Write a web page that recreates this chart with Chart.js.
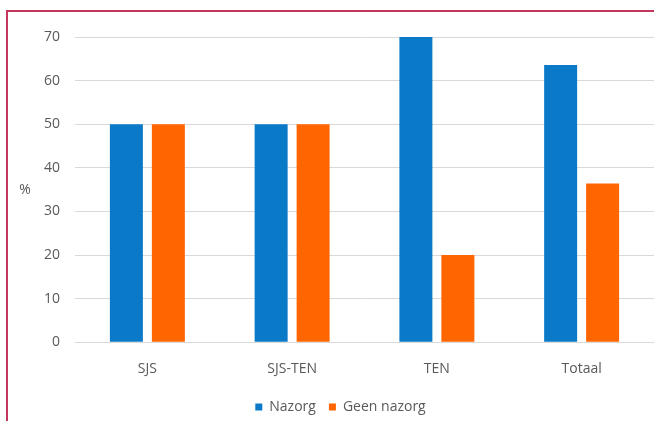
<!DOCTYPE html>
<html>
<head>
<meta charset="utf-8">
<script src="https://cdn.jsdelivr.net/npm/chart.js@4"></script>
<style>
  html, body { margin: 0; padding: 0; background: #fff; overflow: hidden; }
  #wrap { position: relative; width: 654px; height: 421px; overflow: hidden; }
  #frame { position: absolute; left: 6px; top: 10px; right: 0; bottom: 0;
           border-top: 2px solid #c4365c; border-left: 2px solid #c4365c; pointer-events: none; }
</style>
</head>
<body>
<div id="wrap">
  <canvas id="barChart" width="654" height="424"></canvas>
  <div id="frame"></div>
</div>
<script>
  var categories = ['SJS', 'SJS-TEN', 'TEN', 'Totaal'];
  var nazorg = [50, 50, 70, 63.6];
  var geenNazorg = [50, 50, 20, 36.4];
  var yTicks = [0, 10, 20, 30, 40, 50, 60, 70];

  // "%" staat rechtop links van de as
  var percentLabel = {
     id : 'percentLabel',
     afterDraw : function(chart){
        var ctx = chart.ctx;
        var area = chart.chartArea;
        ctx.save();
        ctx.font = '14px "Open Sans"';
        ctx.fillStyle = '#595959';
        ctx.textAlign = 'center';
        ctx.textBaseline = 'middle';
        ctx.fillText('%', 25, (area.top + area.bottom) / 2);
        ctx.restore();
     }
  };

  Chart.defaults.font.family = '"Open Sans", sans-serif';
  Chart.defaults.font.size = 14;
  Chart.defaults.color = '#595959';

  var ctx = document.getElementById('barChart').getContext('2d');

  var options = {
     responsive : false,
     maintainAspectRatio : false,
     animation : false,
     layout : { padding : { top : 37, left : 27, right : 0, bottom : 0 } },
     plugins : {
        legend : {
           position : 'bottom',
           labels : { boxWidth : 7, boxHeight : 7, padding : 13, color : '#595959' }
        },
        tooltip : { enabled : false }
     },
     scales : {
        x : {
           grid : { display : false },
           border : { color : '#d9d9d9' },
           ticks : { padding : 10 }
        },
        y : {
           min : 0,
           max : 70,
           afterFit : function(scale){ scale.width = 48; },
           afterBuildTicks : function(scale){
              scale.ticks = yTicks.map(function(v){ return { value : v }; });
           },
           grid : { color : '#d9d9d9', drawTicks : false },
           border : { display : false },
           ticks : { padding : 15 }
        }
     }
  };

  var nazorgChart = new Chart(ctx, {
     type : 'bar',
     options : options,
     plugins : [percentLabel],
     data : {
        labels : categories,
        datasets : [ {
           label : 'Nazorg',
           data : nazorg,
           backgroundColor : '#0a7ac8',
           categoryPercentage : 0.58,
           barPercentage : 0.786
        }, {
           label : 'Geen nazorg',
           data : geenNazorg,
           backgroundColor : '#ff6600',
           categoryPercentage : 0.58,
           barPercentage : 0.786
        } ]
     }
  });
</script>
</body>
</html>
